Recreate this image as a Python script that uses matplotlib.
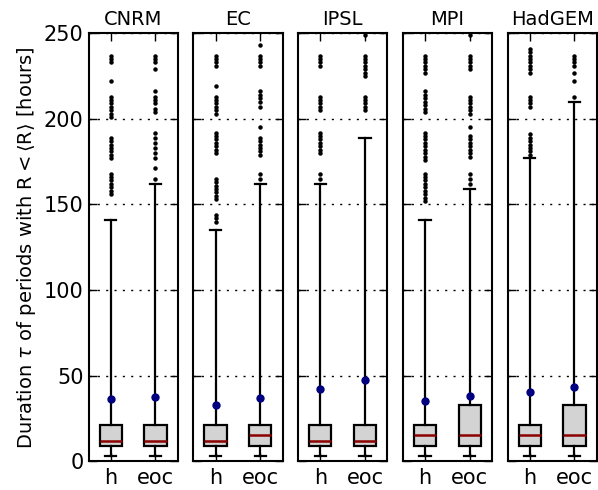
import matplotlib
matplotlib.use("Agg")
import matplotlib.pyplot as plt

models = ["CNRM", "EC", "IPSL", "MPI", "HadGEM"]
periods = ["h", "eoc"]

# box statistics [h, eoc] per model (hours)
q1 = {"CNRM": [9, 9], "EC": [9, 9], "IPSL": [9, 9], "MPI": [9, 9], "HadGEM": [9, 9]}
med = {"CNRM": [12, 12], "EC": [12, 15], "IPSL": [12, 12], "MPI": [15, 15], "HadGEM": [15, 15]}
q3 = {"CNRM": [21, 21], "EC": [21, 21], "IPSL": [21, 21], "MPI": [21, 33], "HadGEM": [21, 33]}
whislo = {"CNRM": [3, 3], "EC": [3, 3], "IPSL": [3, 3], "MPI": [3, 3], "HadGEM": [3, 3]}
whishi = {"CNRM": [141, 162], "EC": [135, 162], "IPSL": [162, 189], "MPI": [141, 159], "HadGEM": [177, 210]}
means = {"CNRM": [36.5, 37.3], "EC": [33.0, 36.6], "IPSL": [42.0, 47.5], "MPI": [35.0, 37.8], "HadGEM": [40.6, 43.2]}

fliers = {
    "CNRM": [
        [237, 235, 233, 222, 213, 211, 209, 207, 205, 203, 201,
         189, 187, 185, 183, 181, 179, 177, 168, 166, 164, 162, 160, 158, 156],
        [237, 235, 233, 229, 216, 213, 211, 209, 206, 204,
         192, 189, 186, 183, 180, 177, 171, 165],
    ],
    "EC": [
        [237, 235, 233, 231, 219, 213, 211, 209, 207, 205, 203,
         192, 190, 188, 186, 184, 182, 180, 165, 163, 161, 159, 157, 155, 153, 144, 142, 140],
        [243, 237, 235, 233, 231, 216, 214, 212, 210, 207, 195,
         189, 187, 185, 183, 181, 179, 168, 165],
    ],
    "IPSL": [
        [237, 235, 233, 231, 213, 211, 209, 207, 205,
         192, 190, 188, 186, 184, 182, 180, 168, 165],
        [249, 237, 235, 233, 231, 229, 227, 225, 213, 211, 209, 207, 205],
    ],
    "MPI": [
        [237, 235, 233, 231, 229, 227, 216, 214, 212, 210, 208, 206, 204,
         192, 190, 188, 186, 184, 182, 180, 178, 176,
         168, 166, 164, 162, 160, 158, 156, 154, 152],
        [249, 237, 235, 233, 231, 229, 213, 211, 209, 207, 205, 203, 195,
         190, 188, 186, 184, 182, 180, 178, 168, 165, 162],
    ],
    "HadGEM": [
        [241, 239, 237, 235, 233, 231, 229, 227, 213, 211, 209, 207,
         191, 189, 187, 185, 183, 181, 179],
        [237, 235, 233, 231, 227, 222, 213],
    ],
}

yticks = [0, 50, 100, 150, 200, 250]

fig, axes = plt.subplots(1, 5, sharey=True, figsize=(5.98, 4.9), dpi=100)
fig.subplots_adjust(left=0.148, right=0.998, top=0.932, bottom=0.059, wspace=0.173)

for ax, m in zip(axes, models):
    stats = []
    for i, p in enumerate(periods):
        stats.append(dict(label=p, q1=q1[m][i], med=med[m][i], q3=q3[m][i],
                          whislo=whislo[m][i], whishi=whishi[m][i],
                          mean=means[m][i], fliers=fliers[m][i]))
    ax.bxp(stats, positions=[1, 2], widths=0.5, patch_artist=True, showmeans=True,
           boxprops=dict(facecolor="lightgray", edgecolor="black", linewidth=1.6),
           medianprops=dict(color="darkred", linewidth=1.8),
           whiskerprops=dict(color="black", linewidth=1.6, linestyle="-"),
           capprops=dict(color="black", linewidth=1.6),
           meanprops=dict(marker="o", markerfacecolor="navy", markeredgecolor="navy", markersize=5),
           flierprops=dict(marker="o", markerfacecolor="black", markeredgecolor="black", markersize=2.2))
    ax.set_xlim(0.5, 2.5)
    ax.set_ylim(0, 250)
    ax.set_yticks(yticks)
    ax.set_title(m, fontsize=14)
    ax.yaxis.grid(True, linestyle=(0, (1.5, 4.5)), color="black", linewidth=1)
    ax.tick_params(direction="in", top=True, right=True, length=6, width=1, labelsize=15)
    ax.tick_params(axis="x", pad=5)
    for s in ax.spines.values():
        s.set_linewidth(1.5)
    if ax is not axes[0]:
        ax.tick_params(labelleft=False)

axes[0].set_ylabel(r"Duration $\tau$ of periods with R$<\langle$R$\rangle$ [hours]", fontsize=14)

fig.savefig("out.png", dpi=100)
